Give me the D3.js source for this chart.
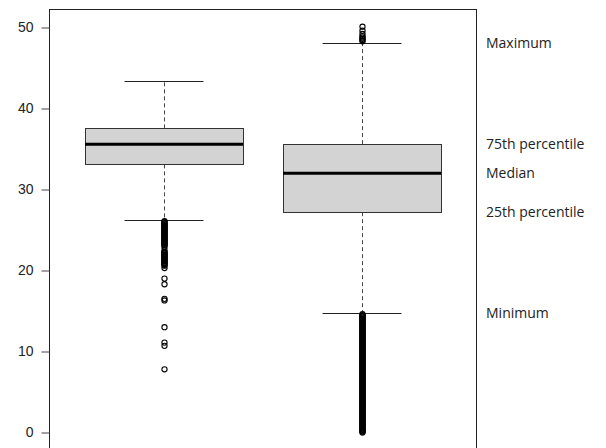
<!DOCTYPE html>
<html lang="en">
<head>
    <meta charset="UTF-8">
    <title>Boxplot</title>
    <script src="https://cdn.jsdelivr.net/npm/d3@7"></script>
    <style>
        body { margin: 0; background: #fff; }
    </style>
</head>
<body>
<svg width="606" height="448" id="chart"></svg>

<script>
    // ---- data ----
    var groups = ["A", "B"];
    // five-number summary per group: lower whisker, Q1, median, Q3, upper whisker
    var lowWhisker = [26.2, 14.7];
    var q1 = [33.1, 27.2];
    var median = [35.6, 32.0];
    var q3 = [37.55, 35.6];
    var highWhisker = [43.4, 48.1];

    // outliers (dense parts drawn as closely packed open circles, like R does)
    var outliersA = [26.1, 26.0, 25.9, 25.8, 25.7, 25.6, 25.5, 25.4, 25.3, 25.2, 25.1,
        25.0, 24.9, 24.8, 24.7, 24.6, 24.5, 24.4, 24.3, 24.2, 24.1, 24.0, 23.9, 23.8,
        23.7, 23.6, 23.5, 23.4, 23.3, 23.2, 23.1, 22.9, 22.5, 22.3, 22.2, 22.1, 22.0,
        21.9, 21.8, 21.7, 21.6, 21.5, 21.4, 21.3, 21.2, 21.1, 21.0, 20.9, 20.8, 20.7,
        20.6, 20.3, 19.0, 18.3, 16.5, 16.3, 13.0, 11.1, 10.7, 7.8];
    var outliersB = [48.3, 48.45, 48.6, 48.75, 48.9, 49.2, 49.6, 50.1,
        14.6, 14.5, 14.4, 14.3, 14.2, 14.1, 14.0, 13.9, 13.8, 13.7, 13.6, 13.5, 13.4,
        13.3, 13.2, 13.1, 13.0, 12.9, 12.8, 12.7, 12.6, 12.5, 12.4, 12.3, 12.2, 12.1,
        12.0, 11.9, 11.8, 11.7, 11.6, 11.5, 11.4, 11.3, 11.2, 11.1, 11.0, 10.9, 10.8,
        10.7, 10.6, 10.5, 10.4, 10.3, 10.2, 10.1, 10.0, 9.9, 9.8, 9.7, 9.6, 9.5, 9.4,
        9.3, 9.2, 9.1, 9.0, 8.9, 8.8, 8.7, 8.6, 8.5, 8.4, 8.3, 8.2, 8.1, 8.0, 7.9, 7.8,
        7.7, 7.6, 7.5, 7.4, 7.3, 7.2, 7.1, 7.0, 6.9, 6.8, 6.7, 6.6, 6.5, 6.4, 6.3, 6.2,
        6.1, 6.0, 5.9, 5.8, 5.7, 5.6, 5.5, 5.4, 5.3, 5.2, 5.1, 5.0, 4.9, 4.8, 4.7, 4.6,
        4.5, 4.4, 4.3, 4.2, 4.1, 4.0, 3.9, 3.8, 3.7, 3.6, 3.5, 3.4, 3.3, 3.2, 3.1, 3.0,
        2.9, 2.8, 2.7, 2.6, 2.5, 2.4, 2.3, 2.2, 2.1, 2.0, 1.9, 1.8, 1.7, 1.6, 1.5, 1.4,
        1.3, 1.2, 1.1, 1.0, 0.9, 0.8, 0.7, 0.6, 0.5, 0.4, 0.3, 0.2, 0.1, 0.0];
    var outliers = [outliersA, outliersB];

    var yTicks = [0, 10, 20, 30, 40, 50];
    var notes = ["Maximum", "75th percentile", "Median", "25th percentile", "Minimum"];
    var noteValues = [highWhisker[1], q3[1], median[1], q1[1], lowWhisker[1]];

    // ---- layout ----
    var svg = d3.select("#chart");
    var frame = {left: 49, right: 476, top: 9, bottom: 452};
    var boxWidth = 158;

    var y = d3.scaleLinear().domain([0, 50]).range([432.5, 27.5]);
    var x = d3.scalePoint().domain(groups).range([164, 362]);

    // frame
    svg.append("rect")
        .attr("x", frame.left + 0.5)
        .attr("y", frame.top + 0.5)
        .attr("width", frame.right - frame.left)
        .attr("height", frame.bottom - frame.top)
        .attr("fill", "none")
        .attr("stroke", "#222")
        .attr("stroke-width", 1);

    // y axis
    var yAxis = d3.axisLeft(y).tickValues(yTicks).tickSize(8).tickPadding(8);
    var ax = svg.append("g")
        .attr("transform", "translate(" + (frame.left + 0.5) + ",0)")
        .call(yAxis);
    ax.select(".domain").remove();
    ax.selectAll(".tick line").attr("stroke", "#444");
    ax.selectAll(".tick text")
        .attr("fill", "#222")
        .style("font-family", "'Liberation Sans', Arial, sans-serif")
        .style("font-size", "14px");

    // boxes
    var data = groups.map(function (g, i) {
        return {g: g, lo: lowWhisker[i], q1: q1[i], med: median[i], q3: q3[i], hi: highWhisker[i], out: outliers[i]};
    });

    var box = svg.selectAll("g.box")
        .data(data)
        .enter()
        .append("g")
        .attr("class", "box");

    // dashed whiskers
    box.append("line")
        .attr("x1", function (d) { return x(d.g) + 0.5; })
        .attr("x2", function (d) { return x(d.g) + 0.5; })
        .attr("y1", function (d) { return y(d.q3); })
        .attr("y2", function (d) { return y(d.hi); })
        .attr("stroke", "#444")
        .attr("stroke-dasharray", "4,3");
    box.append("line")
        .attr("x1", function (d) { return x(d.g) + 0.5; })
        .attr("x2", function (d) { return x(d.g) + 0.5; })
        .attr("y1", function (d) { return y(d.q1); })
        .attr("y2", function (d) { return y(d.lo); })
        .attr("stroke", "#444")
        .attr("stroke-dasharray", "4,3");

    // whisker caps
    ["hi", "lo"].forEach(function (k) {
        box.append("line")
            .attr("x1", function (d) { return x(d.g) - boxWidth / 4; })
            .attr("x2", function (d) { return x(d.g) + boxWidth / 4; })
            .attr("y1", function (d) { return Math.round(y(d[k])) + 0.5; })
            .attr("y2", function (d) { return Math.round(y(d[k])) + 0.5; })
            .attr("stroke", "#222");
    });

    // box body
    box.append("rect")
        .attr("x", function (d) { return Math.round(x(d.g) - boxWidth / 2) + 0.5; })
        .attr("y", function (d) { return Math.round(y(d.q3)) + 0.5; })
        .attr("width", boxWidth)
        .attr("height", function (d) { return Math.round(y(d.q1)) - Math.round(y(d.q3)); })
        .attr("fill", "#d3d3d3")
        .attr("stroke", "#333");

    // median
    box.append("line")
        .attr("x1", function (d) { return x(d.g) - boxWidth / 2; })
        .attr("x2", function (d) { return x(d.g) + boxWidth / 2; })
        .attr("y1", function (d) { return y(d.med); })
        .attr("y2", function (d) { return y(d.med); })
        .attr("stroke", "#000")
        .attr("stroke-width", 3);

    // outliers
    box.selectAll("circle")
        .data(function (d) { return d.out.map(function (v) { return {g: d.g, v: v}; }); })
        .enter()
        .append("circle")
        .attr("cx", function (d) { return x(d.g) + 0.5; })
        .attr("cy", function (d) { return y(d.v); })
        .attr("r", 2.6)
        .attr("fill", "none")
        .attr("stroke", "#000")
        .attr("stroke-width", 1.1);

    // notes on the right
    svg.selectAll("text.note")
        .data(notes)
        .enter()
        .append("text")
        .attr("class", "note")
        .attr("x", 486)
        .attr("y", function (d, i) { return y(noteValues[i]); })
        .attr("dy", "0.35em")
        .attr("fill", "#222")
        .style("font-family", "'Open Sans', sans-serif")
        .style("font-size", "14px")
        .text(function (d) { return d; });
</script>
</body>
</html>
